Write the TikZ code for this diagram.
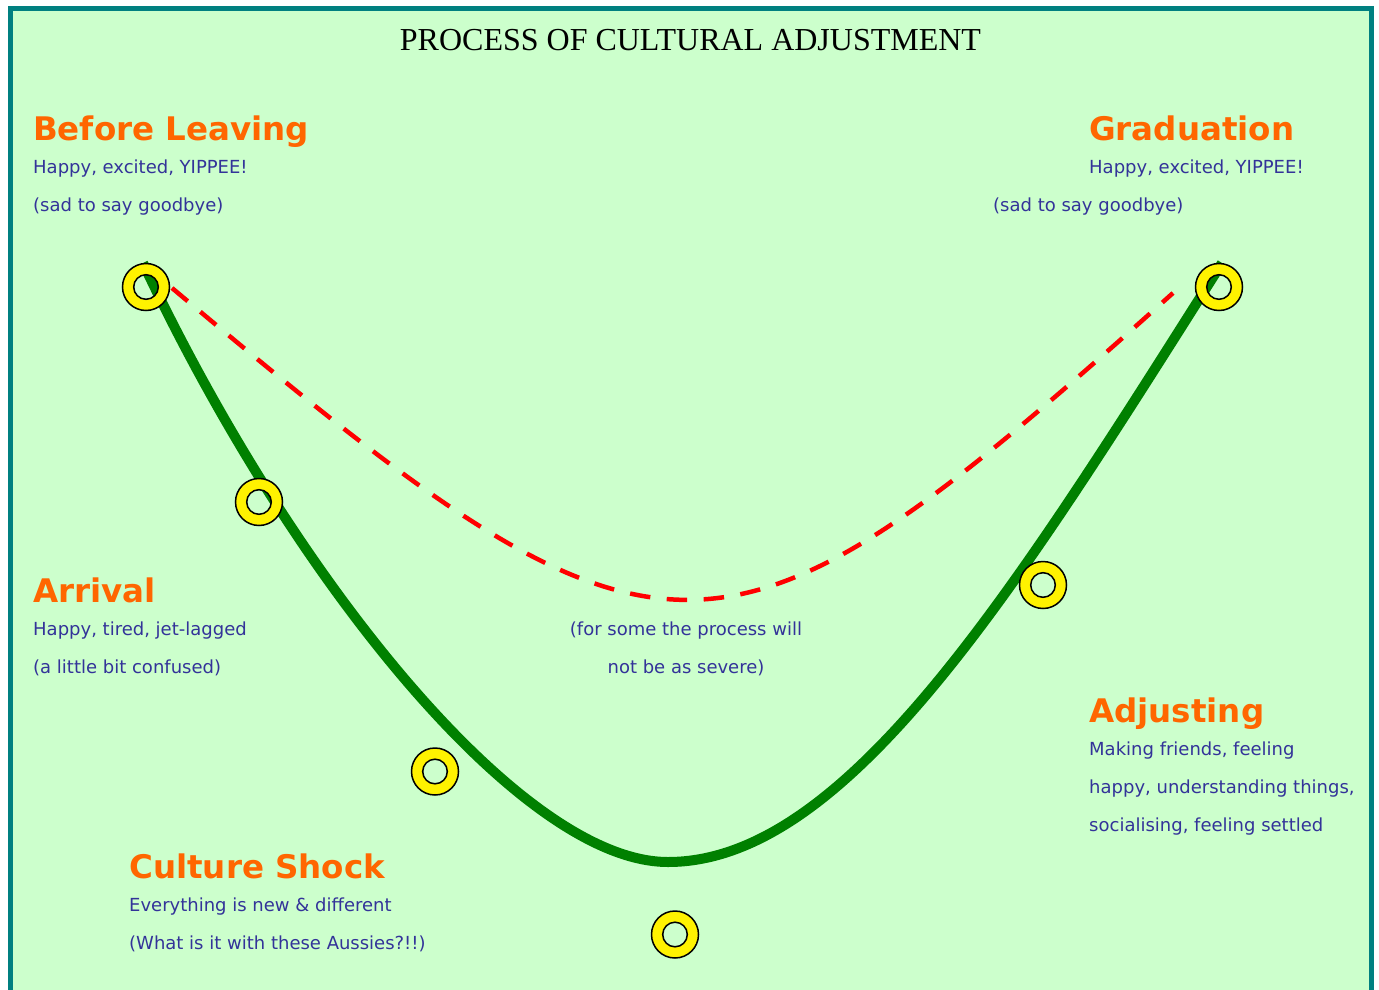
\documentclass[tikz,border=0pt]{standalone}
\usepackage{fontspec}
\setmainfont{Liberation Serif}
\newfontfamily\bodyfont{DejaVu Sans}
\definecolor{bgcol}{HTML}{CCFFCC}
\definecolor{framecol}{HTML}{008080}
\definecolor{headcol}{HTML}{FF6600}
\definecolor{txtcol}{HTML}{333399}
\definecolor{curvecol}{HTML}{008000}
\begin{document}
\begin{tikzpicture}[x=1pt,y=-1pt,
  headtxt/.style={anchor=base west, inner sep=0pt, text=headcol, font=\bodyfont\bfseries\fontsize{32.5}{38}\selectfont},
  bodytxt/.style={anchor=base west, inner sep=0pt, text=txtcol, font=\bodyfont\fontsize{18}{22}\selectfont},
  midtxt/.style={anchor=base, inner sep=0pt, text=txtcol, font=\bodyfont\fontsize{18}{22}\selectfont},
  greencurve/.style={draw=curvecol, line width=10pt},
  reddash/.style={draw=red, line width=4.5pt, dash pattern=on 20.5pt off 16.5pt},
  ringfill/.style={fill=yellow, even odd rule},
  ringline/.style={draw=black, line width=1.5pt}
]
\useasboundingbox (0,0) rectangle (1379,990);
\fill[white] (0,0) rectangle (1379,990);
\begin{scope}
  \clip (0,0) rectangle (1379,990);
  \draw[draw=framecol, fill=bgcol, line width=5pt] (10.8,8.5) rectangle (1371,1010);
\end{scope}

% title
\node[anchor=base, inner sep=0pt, font=\fontsize{32}{38}\selectfont] (title) at (690.5,51) {PROCESS OF CULTURAL ADJUSTMENT};

% key coordinates
\coordinate (gs) at (143,263);
\coordinate (gb) at (668,862);
\coordinate (ge) at (1222,263);
\coordinate (rs) at (172,288);
\coordinate (re) at (1173,293);

% curves
\draw[greencurve] (gs) .. controls (290,575) and (520,862) .. (gb) .. controls (848,862) and (1018,585) .. (ge);
\draw[reddash] (rs) .. controls (666,703) and (715,703) .. (re);

% rings
\coordinate (r1) at (146,287);
\coordinate (r2) at (259,502);
\coordinate (r3) at (1219,287);
\coordinate (r4) at (1043,585);
\coordinate (r5) at (435,771.5);
\coordinate (r6) at (675,934.5);
\foreach \r in {r1,r2,r3,r4,r5,r6}{
  \fill[ringfill] (\r) circle (23.5pt) (\r) circle (12.3pt);
  \draw[ringline] (\r) circle (23.5pt) (\r) circle (12.3pt);
}

% Before Leaving
\node[headtxt] (h1) at (33,140) {Before Leaving};
\node[bodytxt] (b1a) at (33,173) {Happy, excited, YIPPEE!};
\node[bodytxt] (b1b) at (33,211) {(sad to say goodbye)};

% Graduation
\node[headtxt] (h2) at (1089,140) {Graduation};
\node[bodytxt] (b2a) at (1089,173) {Happy, excited, YIPPEE!};
\node[bodytxt] (b2b) at (993,211) {(sad to say goodbye)};

% Arrival
\node[headtxt] (h3) at (33,602) {Arrival};
\node[bodytxt] (b3a) at (33,635) {Happy, tired, jet-lagged};
\node[bodytxt] (b3b) at (33,673) {(a little bit confused)};

% middle note
\node[midtxt] (m1) at (686,635) {(for some the process will};
\node[midtxt] (m2) at (686,673) {not be as severe)};

% Adjusting
\node[headtxt] (h4) at (1089,722) {Adjusting};
\node[bodytxt] (b4a) at (1089,755) {Making friends, feeling};
\node[bodytxt] (b4b) at (1089,793) {happy, understanding things,};
\node[bodytxt] (b4c) at (1089,831) {socialising, feeling settled};

% Culture Shock
\node[headtxt] (h5) at (129,878) {Culture Shock};
\node[bodytxt] (b5a) at (129,911) {Everything is new \& different};
\node[bodytxt] (b5b) at (129,949) {(What is it with these Aussies?!!)};
\end{tikzpicture}
\end{document}
